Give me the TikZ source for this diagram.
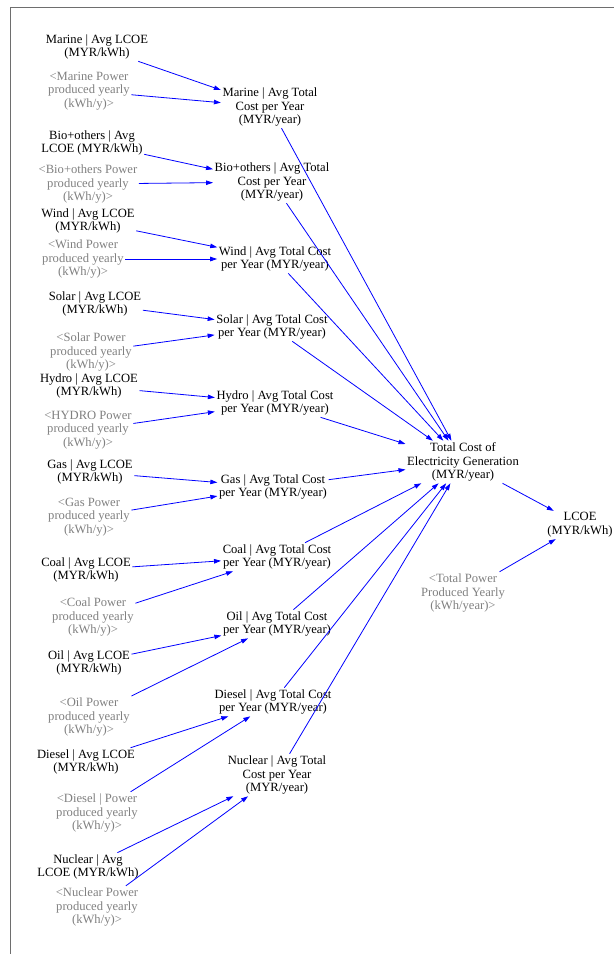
\documentclass[tikz,border=0pt]{standalone}
\usepackage{fontspec}
\setmainfont{Liberation Serif}
\usetikzlibrary{arrows.meta}
\definecolor{shadowgray}{RGB}{128,128,128}
\definecolor{linkblue}{RGB}{0,0,255}
\definecolor{framegray}{RGB}{110,110,110}
\begin{document}
\begin{tikzpicture}[x=1pt,y=-1pt,
  var/.style={align=center,inner sep=1.5pt,font=\fontsize{12.6}{13.8}\selectfont,text=black},
  shadowvar/.style={var,text=shadowgray},
  link/.style={draw=linkblue,line width=0.8pt,-{Triangle[length=7pt,width=4.5pt]}}]
\useasboundingbox (0,0) rectangle (614,954);
\draw[framegray,line width=0.8pt] (10.5,954) -- (10.5,7.5) -- (614,7.5);

\node[var] (mL) at (97,47) {Marine | Avg LCOE\\(MYR/kWh)};
\node[shadowvar] (mP) at (89,91) {<Marine Power\\produced yearly\\(kWh/y)>};
\node[var] (mT) at (270,107) {Marine | Avg Total\\Cost per Year\\(MYR/year)};

\node[var] (bL) at (92,143) {Bio+others | Avg\\LCOE (MYR/kWh)};
\node[shadowvar] (bP) at (88,184) {<Bio+others Power\\produced yearly\\(kWh/y)>};
\node[var] (bT) at (272,182) {Bio+others | Avg Total\\Cost per Year\\(MYR/year)};

\node[var] (wL) at (88,221) {Wind | Avg LCOE\\(MYR/kWh)};
\node[shadowvar] (wP) at (83,259) {<Wind Power\\produced yearly\\(kWh/y)>};
\node[var] (wT) at (275,259) {Wind | Avg Total Cost\\per Year (MYR/year)};

\node[var] (sL) at (95,304) {Solar | Avg LCOE\\(MYR/kWh)};
\node[shadowvar] (sP) at (91,352) {<Solar Power\\produced yearly\\(kWh/y)>};
\node[var] (sT) at (272,327) {Solar | Avg Total Cost\\per Year (MYR/year)};

\node[var] (hL) at (89,386) {Hydro | Avg LCOE\\(MYR/kWh)};
\node[shadowvar] (hP) at (88,430) {<HYDRO Power\\produced yearly\\(kWh/y)>};
\node[var] (hT) at (275,403) {Hydro | Avg Total Cost\\per Year (MYR/year)};

\node[var] (gL) at (90,472) {Gas | Avg LCOE\\(MYR/kWh)};
\node[shadowvar] (gP) at (89,517) {<Gas Power\\produced yearly\\(kWh/y)>};
\node[var] (gT) at (273,487) {Gas | Avg Total Cost\\per Year (MYR/year)};

\node[var] (cL) at (86,570) {Coal | Avg LCOE\\(MYR/kWh)};
\node[shadowvar] (cP) at (93,617) {<Coal Power\\produced yearly\\(kWh/y)>};
\node[var] (cT) at (277,557) {Coal | Avg Total Cost\\per Year (MYR/year)};

\node[var] (oL) at (89,663) {Oil | Avg LCOE\\(MYR/kWh)};
\node[shadowvar] (oP) at (89,717) {<Oil Power\\produced yearly\\(kWh/y)>};
\node[var] (oT) at (277,624) {Oil | Avg Total Cost\\per Year (MYR/year)};

\node[var] (dL) at (86,762) {Diesel | Avg LCOE\\(MYR/kWh)};
\node[shadowvar] (dP) at (97,813) {<Diesel | Power\\produced yearly\\(kWh/y)>};
\node[var] (dT) at (273,702) {Diesel | Avg Total Cost\\per Year (MYR/year)};

\node[var] (nL) at (88,867) {Nuclear | Avg\\LCOE (MYR/kWh)};
\node[shadowvar] (nP) at (97,907) {<Nuclear Power\\produced yearly\\(kWh/y)>};
\node[var] (nT) at (277,775) {Nuclear | Avg Total\\Cost per Year\\(MYR/year)};

\node[var] (tc) at (463,462) {Total Cost of\\Electricity Generation\\(MYR/year)};
\node[var] (lc) at (580,525) {LCOE\\(MYR/kWh)};
\node[shadowvar] (tp) at (463,593) {<Total Power\\Produced Yearly\\(kWh/year)>};

\foreach \s in {m,b,w,s,h,g,c,o,d,n} {
  \draw[link] (\s L) -- (\s T);
  \draw[link] (\s P) -- (\s T);
  \draw[link] (\s T) -- (tc);
}
\draw[link] (tc) -- (lc);
\draw[link] (tp) -- (lc);
\end{tikzpicture}
\end{document}
